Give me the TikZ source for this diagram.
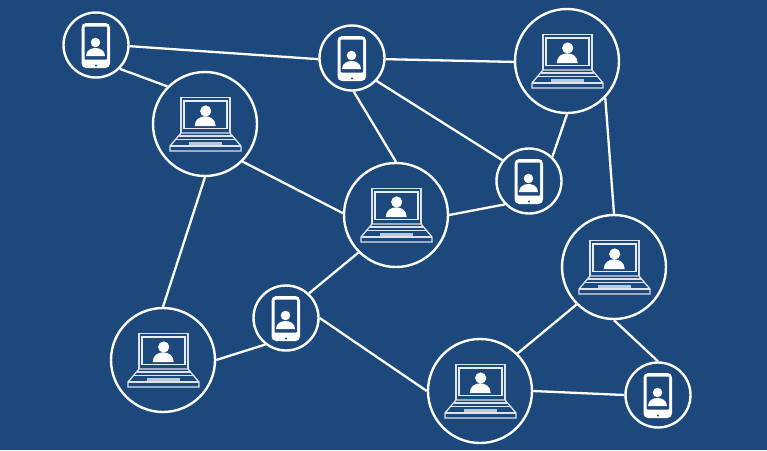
\documentclass[tikz,border=0pt]{standalone}
\definecolor{netblue}{RGB}{29,72,124}
\tikzset{
    peer/.style={circle,draw=white,line width=2.4pt,inner sep=0pt},
    laptoppeer/.style={peer,minimum size=104pt},
    phonepeer/.style={peer,minimum size=65pt},
    link/.style={draw=white,line width=2.3pt},
    pics/laptopicon/.style={code={
        \draw[white!85!netblue,line width=1.3pt] (-24,9) -- (-24,-26.5) -- (25,-26.5) -- (25,9);
        \draw[white!90!netblue,line width=1.3pt] (-21,-23) rectangle (22,4.5);
        \fill[white] (0.7,-13) circle (5.6);
        \fill[white] (-10.3,2) .. controls (-10.3,-4.5) and (-5,-7.7) .. (0.2,-7.7) .. controls (5.5,-7.7) and (10.7,-4.5) .. (10.7,2) -- cycle;
        % keyboard deck
        \draw[white!85!netblue,line width=1.3pt] (-24,9) -- (25,9) -- (36,22) -- (36,27) -- (-35,27) -- (-35,22) -- cycle;
        \draw[white!85!netblue,line width=1.6pt] (-26,12) -- (27,12);
        \draw[white!85!netblue,line width=1.4pt] (-29,15.5) -- (30,15.5);
        \draw[white!85!netblue,line width=1.3pt] (-35,22) -- (36,22);
        \fill[white!70!netblue] (-16,18) rectangle (17,20.5);
    }},
    pics/phoneicon/.style={code={
        \fill[white,rounded corners=4.5pt] (-14.5,-22) rectangle (14,23);
        \fill[netblue,rounded corners=1pt] (-11.5,-18.5) rectangle (11,14.5);
        \fill[white] (-0.5,-2.5) circle (4.8);
        \fill[white] (-10,11) .. controls (-10,5.5) and (-5,3) .. (-0.5,3) .. controls (4,3) and (9,5.5) .. (9,11) -- cycle;
        \fill[netblue] (0,20.5) circle (1.2);
    }}
}
\begin{document}
\begin{tikzpicture}[x=1pt,y=-1pt]
    \fill[netblue] (0,0) rectangle (767,450);
    \useasboundingbox (0,0) rectangle (767,450);

    % The laptops
    \foreach \name/\x/\y in {lapB/205/124,lapD/567/61,lapF/396/215,lapG/614/267,lapI/163/360,lapJ/480/391}{
        \node[laptoppeer] (\name) at (\x,\y) {};
        \pic at (\x,\y) {laptopicon};
    }

    % The phones
    \foreach \name/\x/\y in {phoA/96/45,phoC/352/58,phoE/529/181,phoH/286/318,phoK/658/395}{
        \node[phonepeer] (\name) at (\x,\y) {};
        \pic at (\x,\y) {phoneicon};
    }

    % The links
    \foreach \from/\to in {phoA.358/phoC.182,phoA.315/lapB.135,lapB.315/lapF.178,lapB.270/lapI.90,
                           phoC.358/lapD.181,phoC.273/lapF.90,phoC.317/phoE.142,lapD.270/phoE.46,
                           lapD.316/lapG.90,phoE.224/lapF.0,lapF.225/phoH.47,phoH.232/lapI.0,
                           phoH.0/lapJ.180,lapJ.45/lapG.225,lapJ.0/phoK.180,lapG.270/phoK.90}{
        \draw[link] (\from) -- (\to);
    }
\end{tikzpicture}
\end{document}
